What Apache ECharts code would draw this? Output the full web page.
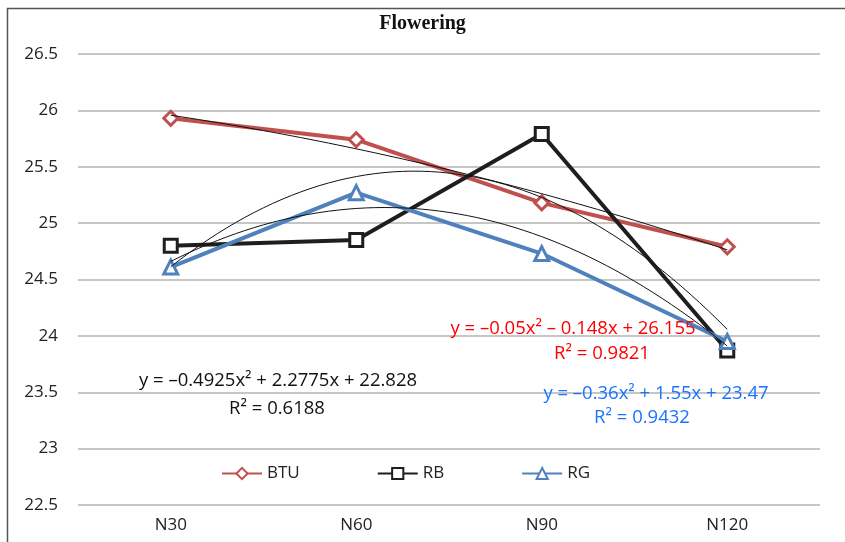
<!DOCTYPE html>
<html><head><meta charset="utf-8">
<script src="https://cdn.jsdelivr.net/npm/echarts@6/dist/echarts.min.js"></script>
<style>html,body{margin:0;padding:0;background:#fff}#c{width:845px;height:542px}</style>
</head><body><div id="c"></div>
<script>
var categories = ['N30', 'N60', 'N90', 'N120'];
var btu = [25.93, 25.74, 25.18, 24.79];
var rb = [24.80, 24.85, 25.79, 23.87];
var rg = [24.61, 25.27, 24.73, 23.95];
// trendline coefficients shown on the chart: [a, b, c] for y = a x^2 + b x + c
var btuFit = [-0.05, -0.148, 26.155];
var rbFit = [-0.4925, 2.2775, 22.828];
var rgFit = [-0.36, 1.55, 23.47];
var yTicks = {min: 22.5, max: 26.5, interval: 0.5};

function curve(f) {
  var pts = [];
  for (var i = 0; i <= 60; i++) {
    var x = 1 + 3 * i / 60;
    pts.push([x, f[0] * x * x + f[1] * x + f[2]]);
  }
  return pts;
}

var chart = echarts.init(document.getElementById('c'));
var font = 'Open Sans, Liberation Sans, sans-serif';
var eqFont = '18.5px Open Sans, sans-serif';
var trendStyle = {color: '#111', width: 1};
chart.setOption({
  animation: false,
  title: {text: 'Flowering', left: 'center', top: 9,
    textStyle: {fontFamily: 'Liberation Serif, Times New Roman, serif', fontWeight: 'bold', fontSize: 20, color: '#111'}},
  grid: {left: 78, right: 25, top: 54, bottom: 37},
  legend: {bottom: 55, left: 216, itemGap: 77, itemWidth: 40, itemHeight: 14,
    textStyle: {fontFamily: font, fontSize: 17, color: '#222'},
    data: ['BTU', 'RB', 'RG']},
  xAxis: [
    {type: 'category', data: categories, boundaryGap: true,
      axisLine: {show: false}, axisTick: {show: false},
      axisLabel: {fontFamily: font, fontSize: 17, color: '#222', margin: 12}},
    {type: 'value', min: 0.5, max: 4.5, show: false}
  ],
  yAxis: {type: 'value', min: yTicks.min, max: yTicks.max, interval: yTicks.interval,
    axisLine: {show: false}, axisTick: {show: false},
    axisLabel: {fontFamily: font, fontSize: 17, color: '#222', margin: 20},
    splitLine: {lineStyle: {color: '#B3B3B3', width: 1.5}}},
  series: [
    {name: 'BTU', type: 'line', data: btu, symbol: 'diamond', symbolSize: 14,
      lineStyle: {color: '#C0504D', width: 4},
      itemStyle: {color: '#fff', borderColor: '#C0504D', borderWidth: 3}, z: 3},
    {name: 'RB', type: 'line', data: rb, symbol: 'rect', symbolSize: 13,
      lineStyle: {color: '#1E1E1E', width: 4},
      itemStyle: {color: '#fff', borderColor: '#1E1E1E', borderWidth: 3}, z: 3},
    {name: 'RG', type: 'line', data: rg, symbol: 'triangle', symbolSize: 14,
      lineStyle: {color: '#4F81BD', width: 4},
      itemStyle: {color: '#fff', borderColor: '#4F81BD', borderWidth: 3}, z: 3},
    {name: 'BTU trend', type: 'line', xAxisIndex: 1, data: curve(btuFit), showSymbol: false, lineStyle: trendStyle, z: 4, silent: true},
    {name: 'RB trend', type: 'line', xAxisIndex: 1, data: curve(rbFit), showSymbol: false, lineStyle: trendStyle, z: 4, silent: true},
    {name: 'RG trend', type: 'line', xAxisIndex: 1, data: curve(rgFit), showSymbol: false, lineStyle: trendStyle, z: 4, silent: true}
  ],
  graphic: [
    {type: 'rect', left: 5, top: 6, shape: {width: 900, height: 600}, silent: true,
      style: {fill: 'none', stroke: '#555', lineWidth: 1.5}, z: -1},
    {type: 'text', x: 278, y: 381, style: {text: 'y = \u20130.4925x\u00b2 + 2.2775x + 22.828', fill: '#111', font: eqFont, align: 'center', verticalAlign: 'middle'}, z: 10},
    {type: 'text', x: 277, y: 409, style: {text: 'R\u00b2 = 0.6188', fill: '#111', font: eqFont, align: 'center', verticalAlign: 'middle'}, z: 10},
    {type: 'text', x: 573, y: 329, style: {text: 'y = \u20130.05x\u00b2 \u2013 0.148x + 26.155', fill: '#FF0000', font: eqFont, align: 'center', verticalAlign: 'middle'}, z: 10},
    {type: 'text', x: 602, y: 354, style: {text: 'R\u00b2 = 0.9821', fill: '#FF0000', font: eqFont, align: 'center', verticalAlign: 'middle'}, z: 10},
    {type: 'text', x: 656, y: 394, style: {text: 'y = \u20130.36x\u00b2 + 1.55x + 23.47', fill: '#1874FF', font: eqFont, align: 'center', verticalAlign: 'middle'}, z: 10},
    {type: 'text', x: 642, y: 418, style: {text: 'R\u00b2 = 0.9432', fill: '#1874FF', font: eqFont, align: 'center', verticalAlign: 'middle'}, z: 10}
  ]
});
</script></body></html>
